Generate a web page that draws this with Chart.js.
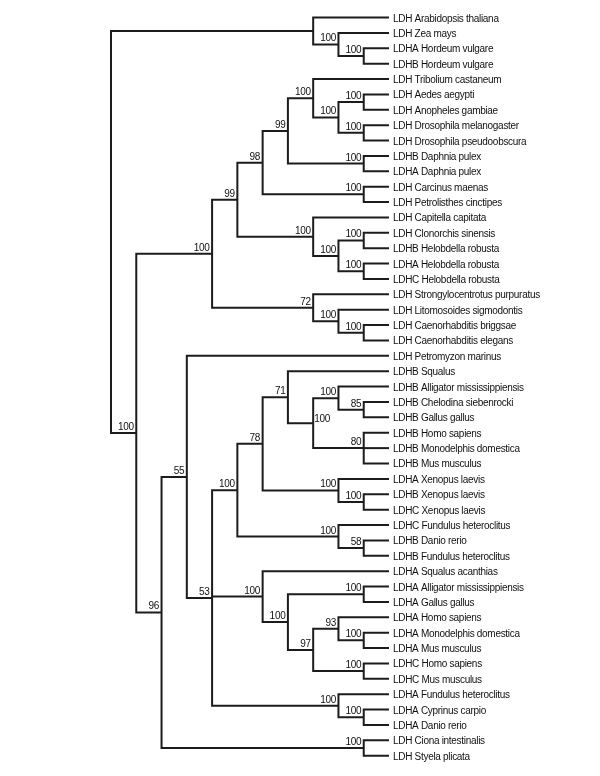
<!DOCTYPE html>
<html>
<head>
<meta charset="utf-8">
<script src="https://cdn.jsdelivr.net/npm/chart.js"></script>
<style>
  body { margin: 0; background: #fff; }
</style>
</head>
<body>
<canvas id="tree" width="600" height="776"></canvas>
<script>
// leaves, top to bottom
const leafNames = [
  "LDH Arabidopsis thaliana", "LDH Zea mays", "LDHA Hordeum vulgare", "LDHB Hordeum vulgare",
  "LDH Tribolium castaneum", "LDH Aedes aegypti", "LDH Anopheles gambiae",
  "LDH Drosophila melanogaster", "LDH Drosophila pseudoobscura",
  "LDHB Daphnia pulex", "LDHA Daphnia pulex", "LDH Carcinus maenas", "LDH Petrolisthes cinctipes",
  "LDH Capitella capitata", "LDH Clonorchis sinensis", "LDHB Helobdella robusta",
  "LDHA Helobdella robusta", "LDHC Helobdella robusta", "LDH Strongylocentrotus purpuratus",
  "LDH Litomosoides sigmodontis", "LDH Caenorhabditis briggsae", "LDH Caenorhabditis elegans",
  "LDH Petromyzon marinus", "LDHB Squalus", "LDHB Alligator mississippiensis",
  "LDHB Chelodina siebenrocki", "LDHB Gallus gallus", "LDHB Homo sapiens",
  "LDHB Monodelphis domestica", "LDHB Mus musculus", "LDHA Xenopus laevis",
  "LDHB Xenopus laevis", "LDHC Xenopus laevis", "LDHC Fundulus heteroclitus",
  "LDHB Danio rerio", "LDHB Fundulus heteroclitus", "LDHA Squalus acanthias",
  "LDHA Alligator mississippiensis", "LDHA Gallus gallus", "LDHA Homo sapiens",
  "LDHA Monodelphis domestica", "LDHA Mus musculus", "LDHC Homo sapiens", "LDHC Mus musculus",
  "LDHA Fundulus heteroclitus", "LDHA Cyprinus carpio", "LDHA Danio rerio",
  "LDH Ciona intestinalis", "LDH Styela plicata"
];

// internal nodes: range of leaves they hold, depth level, bootstrap value
const nodeFirst = [0,0,1,2,4,4,4,4,4,4,5,5,7,9,11,13,14,14,16,18,19,20,22,22,23,23,23,23,24,24,25,27,30,31,33,34,36,37,37,39,39,40,42,44,45,47];
const nodeLast  = [48,3,3,3,48,21,17,12,10,8,8,6,8,10,12,17,17,15,17,21,21,21,48,46,46,35,32,29,29,26,26,29,32,32,35,35,43,43,38,43,41,41,43,46,46,48];
const nodeLevel = [0,8,9,10,1,4,5,6,7,8,9,10,10,10,10,8,9,10,10,8,9,10,2,3,4,5,6,7,8,9,10,10,9,10,9,10,6,7,10,8,9,10,10,9,10,10];
const nodeSupport = [null,null,100,100,100,100,99,98,99,100,100,100,100,100,100,100,100,100,100,72,100,100,96,55,53,100,78,71,100,100,85,80,100,100,100,58,100,100,100,97,93,100,100,100,100,100];

const tipLevel = 11;

// smallest node holding the range first..last (other than itself)
function owner(first, last, self) {
  let best = -1;
  for (let k = 0; k < nodeLevel.length; k++) {
    if (k === self) continue;
    if (nodeFirst[k] <= first && nodeLast[k] >= last) {
      if (best < 0 || nodeLast[k] - nodeFirst[k] < nodeLast[best] - nodeFirst[best]) best = k;
    }
  }
  return best;
}

const children = nodeLevel.map(() => []);
leafNames.forEach((_, i) => children[owner(i, i, -1)].push({ leaf: true, i: i, first: i }));
nodeLevel.forEach((_, k) => {
  if (k === 0) return;
  children[owner(nodeFirst[k], nodeLast[k], k)].push({ leaf: false, i: k, first: nodeFirst[k] });
});
children.forEach(c => c.sort((a, b) => a.first - b.first));

function yOf(c) {
  if (c.leaf) return c.i;
  const ch = children[c.i];
  return (yOf(ch[0]) + yOf(ch[ch.length - 1])) / 2;
}
function xOf(c) { return c.leaf ? tipLevel : nodeLevel[c.i]; }

const lineColor = '#1c1c1c';
const datasets = [];
function addLine(pts) {
  datasets.push({
    data: pts, showLine: true, borderColor: lineColor, borderWidth: 2,
    pointRadius: 0, pointHoverRadius: 0, clip: false,
    borderJoinStyle: 'miter', borderCapStyle: 'butt'
  });
}

children.forEach((ch, k) => {
  const lv = nodeLevel[k];
  const a = ch[0], b = ch[ch.length - 1];
  addLine([
    { x: xOf(a), y: yOf(a) }, { x: lv, y: yOf(a) },
    { x: lv, y: yOf(b) }, { x: xOf(b), y: yOf(b) }
  ]);
  ch.slice(1, -1).forEach(c => addLine([{ x: lv, y: yOf(c) }, { x: xOf(c), y: yOf(c) }]));
});

const labelsPlugin = {
  id: 'treeLabels',
  afterDatasetsDraw(chart) {
    const ctx = chart.ctx;
    const xs = chart.scales.x, ys = chart.scales.y;
    ctx.save();
    ctx.fillStyle = '#111';
    ctx.font = '10px "Liberation Sans", Arial, sans-serif';
    if ('letterSpacing' in ctx) ctx.letterSpacing = '-0.3px';
    ctx.textBaseline = 'alphabetic';

    ctx.textAlign = 'left';
    leafNames.forEach((name, i) => {
      ctx.fillText(name, xs.getPixelForValue(tipLevel) + 4, ys.getPixelForValue(i) + 4);
    });

    nodeSupport.forEach((s, k) => {
      if (s === null) return;
      const px = xs.getPixelForValue(nodeLevel[k]);
      const py = ys.getPixelForValue(yOf({ leaf: false, i: k }));
      if (k === 28) {
        // this one sits right of its node in the original
        ctx.textAlign = 'left';
        ctx.fillText(String(s), px + 1, py - 1.5);
      } else {
        ctx.textAlign = 'right';
        ctx.fillText(String(s), px - 2.5, py - 3);
      }
    });
    ctx.restore();
  }
};

new Chart(document.getElementById('tree'), {
  type: 'scatter',
  data: { datasets: datasets },
  options: {
    responsive: false,
    animation: false,
    layout: { padding: { left: 111, right: 211, top: 17.5, bottom: 20.3 } },
    scales: {
      x: { type: 'linear', min: 0, max: tipLevel, display: false },
      y: { type: 'linear', min: 0, max: leafNames.length - 1, reverse: true, display: false }
    },
    plugins: { legend: { display: false }, tooltip: { enabled: false } },
    events: []
  },
  plugins: [labelsPlugin]
});
</script>
</body>
</html>
